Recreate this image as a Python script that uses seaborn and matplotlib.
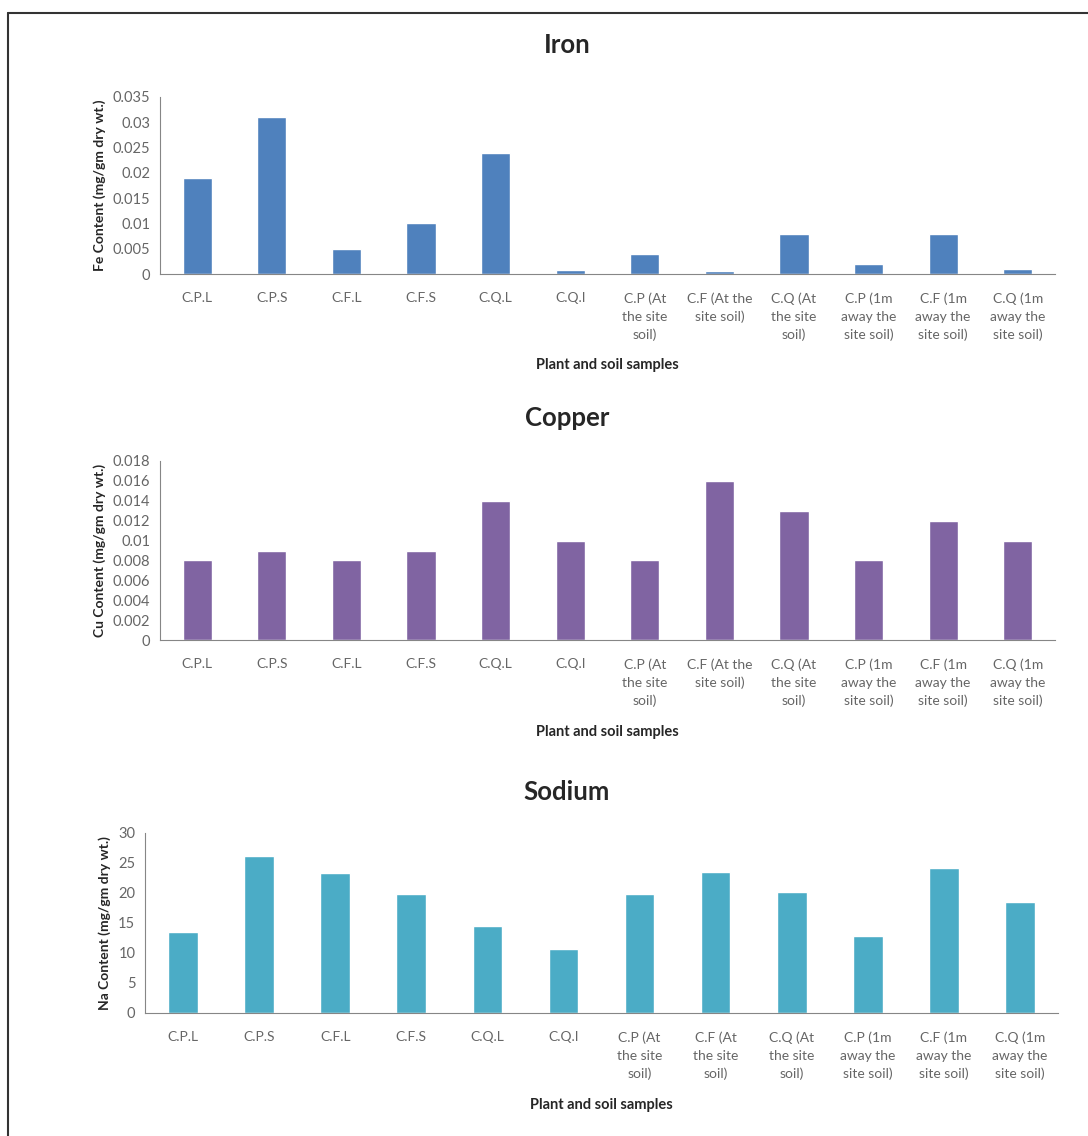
import matplotlib
matplotlib.use("Agg")
import numpy as np
import pandas as pd
import seaborn as sns
import matplotlib.pyplot as plt
from matplotlib.ticker import FuncFormatter, MultipleLocator
from matplotlib.lines import Line2D

# 数据
samples = ["C.P.L", "C.P.S", "C.F.L", "C.F.S", "C.Q.L", "C.Q.I",
           "C.P (At\nthe site\nsoil)", "C.F (At the\nsite soil)", "C.Q (At\nthe site\nsoil)",
           "C.P (1m\naway the\nsite soil)", "C.F (1m\naway the\nsite soil)", "C.Q (1m\naway the\nsite soil)"]
sodium_samples = ["C.P.L", "C.P.S", "C.F.L", "C.F.S", "C.Q.L", "C.Q.I",
                  "C.P (At\nthe site\nsoil)", "C.F (At\nthe site\nsoil)", "C.Q (At\nthe site\nsoil)",
                  "C.P (1m\naway the\nsite soil)", "C.F (1m\naway the\nsite soil)", "C.Q (1m\naway the\nsite soil)"]
iron = [0.019, 0.031, 0.005, 0.010, 0.024, 0.0008, 0.004, 0.0006, 0.008, 0.002, 0.008, 0.001]
copper = [0.008, 0.009, 0.008, 0.009, 0.014, 0.010, 0.008, 0.016, 0.013, 0.008, 0.012, 0.010]
sodium = [13.5, 26.2, 23.4, 19.8, 14.5, 10.6, 19.8, 23.5, 20.1, 12.8, 24.2, 18.5]

sns.set_style("white")
plt.rcParams['font.family'] = ['Lato', 'DejaVu Sans']

fig = plt.figure(figsize=(10.88, 11.36), dpi=100)
W, H = 1088, 1136

panels = [
    # 标题, 标签, 数值, 颜色, y轴标题, y最大值, 步长, 坐标区(像素), 标题y, x轴标题y
    ("Iron", samples, iron, "#4F81BD", "Fe Content (mg/gm dry wt.)", 0.035, 0.005,
     (160, 1055, 97, 274), 45, 365),
    ("Copper", samples, copper, "#8064A2", "Cu Content (mg/gm dry wt.)", 0.018, 0.002,
     (160, 1055, 461, 640), 418, 732),
    ("Sodium", sodium_samples, sodium, "#4BACC6", "Na Content (mg/gm dry wt.)", 30, 5,
     (145, 1058, 833, 1013), 792, 1105),
]

grey = "#868686"
for title, labels, vals, col, ylab, ymax, step, (l, r, t, b), ty, xy in panels:
    ax = fig.add_axes([l / W, 1 - b / H, (r - l) / W, (b - t) / H])
    df = pd.DataFrame({"sample": labels, "value": vals})
    sns.barplot(data=df, x="sample", y="value", color=col, saturation=1,
                width=0.39, ax=ax)
    ax.set_xlim(-0.5, len(labels) - 0.5)
    ax.set_ylim(0, ymax)
    ax.yaxis.set_major_locator(MultipleLocator(step))
    ax.yaxis.set_major_formatter(FuncFormatter(lambda v, p: "{:g}".format(round(v, 4))))
    ax.set_xticks(np.arange(-0.5, len(labels), 1.0), minor=True)
    ax.tick_params(axis="x", which="major", length=0, pad=13, labelsize=10,
                   labelcolor="#666666")
    ax.tick_params(axis="x", which="minor", length=5, width=0.8, color=grey, direction="out")
    ax.tick_params(axis="y", length=4, width=0.8, color=grey, direction="out",
                   labelsize=10.5, labelcolor="#666666", pad=3)
    for lab in ax.get_xticklabels():
        lab.set_linespacing(1.6)
        lab.set_va("top")
    sns.despine(ax=ax)
    for s in ["left", "bottom"]:
        ax.spines[s].set_color(grey)
        ax.spines[s].set_linewidth(0.8)
    ax.set_xlabel("")
    ax.set_ylabel(ylab, fontsize=10, fontweight="bold", labelpad=5)
    fig.text(0.5 * (l + r) / W, 1 - xy / H, "Plant and soil samples", ha="center",
             va="center", fontsize=10.5, fontweight="bold")
    fig.text(567 / W, 1 - ty / H, title, ha="center", va="center", fontsize=18.5,
             fontweight="bold")

# 外框
fig.add_artist(Line2D([8 / W, 8 / W], [0, 1 - 13 / H], color="#333333", lw=1.5))
fig.add_artist(Line2D([8 / W, 1], [1 - 13 / H, 1 - 13 / H], color="#333333", lw=1.5))

fig.savefig("out.png", dpi=100)
